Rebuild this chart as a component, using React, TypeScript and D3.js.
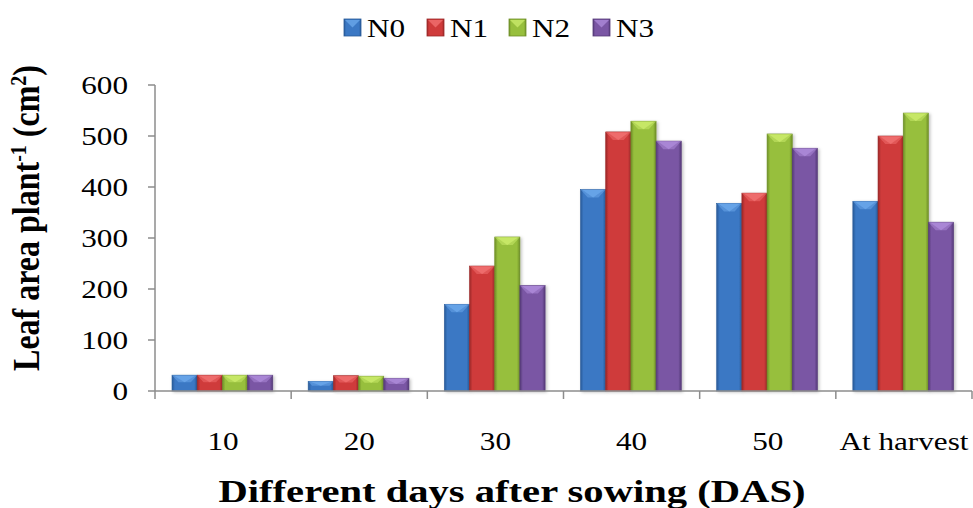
import React from "react";
import * as d3 from "d3";

const categories = ["10", "20", "30", "40", "50", "At harvest"];
const seriesNames = ["N0", "N1", "N2", "N3"];
const N0 = [31, 19, 170, 395, 368, 372];
const N1 = [31, 30, 245, 508, 388, 500];
const N2 = [31, 29, 302, 529, 504, 545];
const N3 = [31, 25, 207, 490, 476, 331];
const yTicks = [0, 100, 200, 300, 400, 500, 600];

const seriesValues = [N0, N1, N2, N3];
const colors = [
  { base: "#3b78c4", light: "#6aa6ea", dark: "#285a98" },
  { base: "#cf3b3b", light: "#f07070", dark: "#9c2828" },
  { base: "#97bf3d", light: "#c9ea6a", dark: "#6f8f28" },
  { base: "#7a56a4", light: "#ad8ad8", dark: "#553a78" },
];

const W = 973;
const H = 508;
const left = 155;
const right = 972;
const top = 85;
const bottom = 391;
const SX = 1.2;
const font = '"Liberation Serif", "Times New Roman", Times, serif';

export default function App() {
  const x = d3.scaleBand<string>().domain(categories).range([left, right]).paddingInner(0).paddingOuter(0);
  const y = d3.scaleLinear().domain([0, 600]).range([bottom, top]);
  const bw = x.bandwidth();
  const inner = d3
    .scaleBand<string>()
    .domain(seriesNames)
    .range([bw * 0.125, bw * 0.865])
    .padding(0);
  const barW = inner.bandwidth();
  const legendX = [344, 427, 509, 593];

  return (
    <svg width={W} height={H} style={{ position: "absolute", left: 0, top: 0, background: "#fff", fontFamily: font }}>
      <defs>
        {colors.map((c, i) => (
          <linearGradient key={i} id={`g${i}`} x1="0" x2="1" y1="0" y2="0">
            <stop offset="0" stopColor={c.dark} />
            <stop offset="0.12" stopColor={c.base} />
            <stop offset="0.88" stopColor={c.base} />
            <stop offset="1" stopColor={c.dark} />
          </linearGradient>
        ))}
        <filter id="sh" x="-20%" y="-20%" width="140%" height="140%">
          <feDropShadow dx="1.5" dy="1" stdDeviation="1.5" floodColor="#000" floodOpacity="0.25" />
        </filter>
      </defs>

      {/* legend */}
      {seriesNames.map((s, i) => {
        const lx = legendX[i];
        const c = colors[i];
        const sz = 17;
        return (
          <g key={s}>
            <rect x={lx} y={19} width={sz} height={sz} fill={`url(#g${i})`} stroke={c.dark} strokeWidth={0.8} />
            <polygon points={`${lx + 1},${20} ${lx + sz - 1},${20} ${lx + sz / 2},${27.5}`} fill={c.light} opacity={0.8} />
            <text
              transform={`translate(${lx + sz + 6},37) scale(${SX},1)`}
              style={{ fontFamily: font, fontSize: 26 }}
              fill="#000"
            >
              {s}
            </text>
          </g>
        );
      })}

      {/* bars */}
      {categories.map((cat, ci) => (
        <g key={cat} transform={`translate(${x(cat)},0)`}>
          {seriesNames.map((s, si) => {
            const v = seriesValues[si][ci];
            const bx = inner(s)!;
            const by = y(v);
            const bh = bottom - by;
            const c = colors[si];
            const bev = Math.min(barW * 0.32, bh * 0.45);
            return (
              <g key={s} filter="url(#sh)">
                <rect x={bx} y={by} width={barW} height={bh} fill={`url(#g${si})`} stroke={c.dark} strokeWidth={0.6} />
                <polygon
                  points={`${bx},${by} ${bx + barW},${by} ${bx + barW - bev * 0.9},${by + bev} ${bx + bev * 0.9},${by + bev}`}
                  fill={c.light}
                  opacity={0.55}
                />
                <polygon
                  points={`${bx + 2},${by + 0.5} ${bx + barW - 2},${by + 0.5} ${bx + barW / 2},${by + bev}`}
                  fill={c.light}
                  opacity={0.85}
                />
              </g>
            );
          })}
        </g>
      ))}

      {/* y axis */}
      <line x1={left} x2={left} y1={top} y2={bottom} stroke="#8c8c8c" strokeWidth={1.5} />
      {yTicks.map((t) => (
        <g key={t}>
          <line x1={left - 7} x2={left} y1={y(t)} y2={y(t)} stroke="#8c8c8c" strokeWidth={1.5} />
          <text
            transform={`translate(${left - 27},${y(t) + 9}) scale(${SX},1)`}
            textAnchor="end"
            style={{ fontFamily: font, fontSize: 26 }}
            fill="#000"
          >
            {t}
          </text>
        </g>
      ))}

      {/* x axis */}
      <line x1={left} x2={right} y1={bottom} y2={bottom} stroke="#8c8c8c" strokeWidth={1.5} />
      {categories.map((cat) => (
        <line key={cat} x1={x(cat)!} x2={x(cat)!} y1={bottom} y2={bottom + 8} stroke="#8c8c8c" strokeWidth={1.5} />
      ))}
      <line x1={right} x2={right} y1={bottom} y2={bottom + 8} stroke="#8c8c8c" strokeWidth={1.5} />
      {categories.map((cat) => (
        <text
          key={cat}
          transform={`translate(${x(cat)! + bw / 2},450) scale(${SX},1)`}
          textAnchor="middle"
          style={{ fontFamily: font, fontSize: 26 }}
          fill="#000"
        >
          {cat}
        </text>
      ))}

      {/* axis titles */}
      <text
        x={512}
        y={502}
        textAnchor="middle"
        textLength={587}
        lengthAdjust="spacingAndGlyphs"
        style={{ fontFamily: font, fontSize: 32, fontWeight: "bold" }}
        fill="#000"
      >
        Different days after sowing (DAS)
      </text>
      <text
        transform={`translate(39,218) scale(${SX},1) rotate(-90)`}
        textAnchor="middle"
        style={{ fontFamily: font, fontSize: 32, fontWeight: "bold" }}
        fill="#000"
      >
        Leaf area plant
        <tspan dy={-11} style={{ fontSize: 20 }}>-1</tspan>
        <tspan dy={11}> (cm</tspan>
        <tspan dy={-11} style={{ fontSize: 20 }}>2</tspan>
        <tspan dy={11}>)</tspan>
      </text>
    </svg>
  );
}
